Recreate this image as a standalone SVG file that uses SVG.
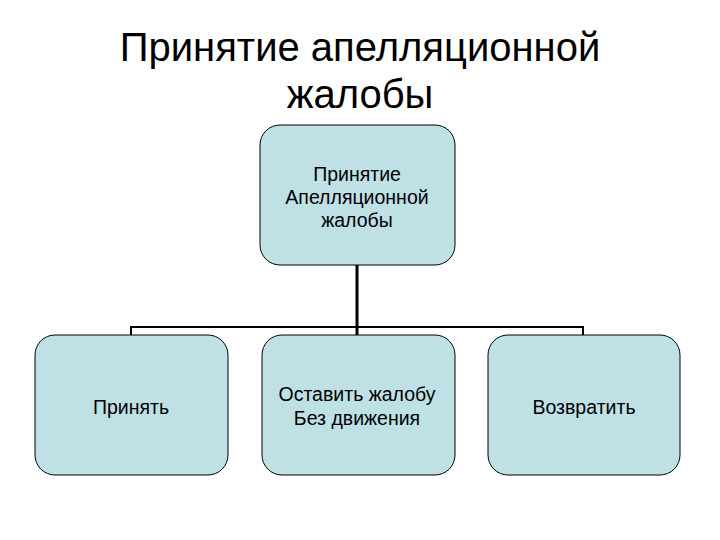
<svg xmlns="http://www.w3.org/2000/svg" width="720" height="540" viewBox="0 0 720 540">
<style>
.t{font-family:"Liberation Sans",Arial,sans-serif;fill:#000;text-anchor:middle}
.b{fill:#bfe1e6;stroke:#000;stroke-width:1}
.s{font-size:19.5px}
</style>
<rect width="720" height="540" fill="#fff"/>
<text class="t" x="360" y="61" font-size="40">Принятие апелляционной</text>
<text class="t" x="360" y="108" font-size="40">жалобы</text>
<g id="connectors" fill="none" stroke="#000">
<path d="M357 265V335" stroke-width="3"/>
<path d="M131 335V327H583V335" stroke-width="2"/>
</g>
<g id="root"><rect class="b" x="260" y="125" width="195" height="140" rx="20"/>
<text class="t s" x="357" y="181">Принятие</text>
<text class="t s" x="357" y="204">Апелляционной</text>
<text class="t s" x="357" y="227">жалобы</text></g>
<g id="n1"><rect class="b" x="35" y="335" width="193" height="140" rx="20"/>
<text class="t s" x="131" y="414">Принять</text></g>
<g id="n2"><rect class="b" x="262" y="335" width="193" height="140" rx="20"/>
<text class="t s" x="357" y="401">Оставить жалобу</text>
<text class="t s" x="357" y="425">Без движения</text></g>
<g id="n3"><rect class="b" x="488" y="335" width="192" height="140" rx="20"/>
<text class="t s" x="584" y="414">Возвратить</text></g>
</svg>
